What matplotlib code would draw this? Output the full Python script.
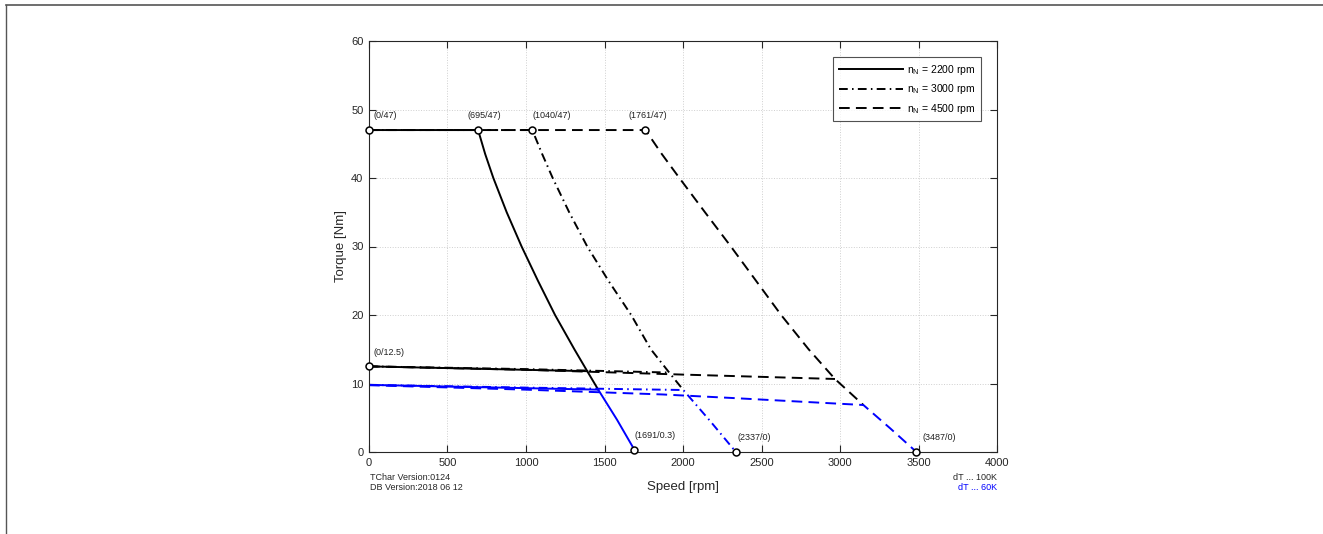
import matplotlib
matplotlib.use('Agg')
import matplotlib.pyplot as plt
from matplotlib.lines import Line2D

plt.rcParams['font.family'] = ['Liberation Sans', 'DejaVu Sans']

# Speed/torque curves
# max torque curve (dT 100K) per winding: flat part + voltage limit
n2200_max = [0, 695, 740, 792, 877, 972, 1076, 1185, 1308, 1390, 1460]
t2200_max = [47, 47, 43.5, 40, 35, 30, 25, 20, 15, 11.8, 9.1]
n3000_max = [0, 1040, 1103, 1170, 1275, 1390, 1525, 1670, 1795, 1912, 2002]
t3000_max = [47, 47, 43.5, 40, 35, 30, 25, 20, 15, 11.6, 9.05]
n4500_max = [0, 1761, 1865, 1977, 2140, 2305, 2465, 2625, 2800, 2968, 3149]
t4500_max = [47, 47, 43.5, 40, 35, 30, 25, 20, 15, 10.66, 6.86]

# continuous torque dT 100K
n2200_s1 = [0, 1390]
t2200_s1 = [12.5, 11.8]
n3000_s1 = [0, 1000, 1912]
t3000_s1 = [12.5, 12.1, 11.6]
n4500_s1 = [0, 1000, 2000, 2968]
t4500_s1 = [12.5, 12.0, 11.3, 10.66]

# continuous torque dT 60K, then down along the voltage limit
n2200_60 = [0, 1460, 1580, 1691]
t2200_60 = [9.8, 9.1, 4.7, 0.3]
n3000_60 = [0, 1000, 2002, 2170, 2337]
t3000_60 = [9.8, 9.4, 9.05, 4.6, 0]
n4500_60 = [0, 1000, 1870, 2300, 3149, 3320, 3487]
t4500_60 = [9.75, 9.1, 8.4, 7.9, 6.86, 3.45, 0]

# marked points
pt_n = [0, 695, 1040, 1761, 0, 1691, 2337, 3487]
pt_t = [47, 47, 47, 47, 12.5, 0.3, 0, 0]
pt_lbl = ['(0/47)', '(695/47)', '(1040/47)', '(1761/47)', '(0/12.5)',
          '(1691/0.3)', '(2337/0)', '(3487/0)']
pt_off = [(3, 7), (-8, 7), (0, 7), (-12, 7), (3, 7), (0, 7), (1, 7), (4, 7)]

legend_lbl = [r'n$_\mathregular{N}$ = 2200 rpm', r'n$_\mathregular{N}$ = 3000 rpm',
              r'n$_\mathregular{N}$ = 4500 rpm']

fig = plt.figure(figsize=(13.23, 5.34), dpi=100)
ax = fig.add_axes([369 / 1323, 1 - 452 / 534, 628 / 1323, 411 / 534])

lw = 1.4
dash = (0, (5.5, 3.2))
dashdot = (0, (4.5, 2.2, 0.8, 2.2))
blue = '#0000ff'

ax.plot(n2200_max, t2200_max, color='k', lw=lw, ls='-', label=legend_lbl[0])
ax.plot(n3000_max, t3000_max, color='k', lw=lw, ls=dashdot, label=legend_lbl[1])
ax.plot(n4500_max, t4500_max, color='k', lw=lw, ls=dash, label=legend_lbl[2])
ax.plot(n2200_s1, t2200_s1, color='k', lw=lw, ls='-')
ax.plot(n3000_s1, t3000_s1, color='k', lw=lw, ls=dashdot)
ax.plot(n4500_s1, t4500_s1, color='k', lw=lw, ls=dash)
ax.plot(n2200_60, t2200_60, color=blue, lw=lw, ls='-')
ax.plot(n3000_60, t3000_60, color=blue, lw=lw, ls=dashdot)
ax.plot(n4500_60, t4500_60, color=blue, lw=lw, ls=dash)

ax.plot(pt_n, pt_t, ls='none', marker='o', ms=5, mfc='white', mec='k',
        mew=1.1, clip_on=False, zorder=5)
for n, t, s, off in zip(pt_n, pt_t, pt_lbl, pt_off):
    ax.annotate(s, (n, t), xytext=off, textcoords='offset points',
                fontsize=6.5, color='#222222', ha='left', va='bottom')

ax.set_xlim(0, 4000)
ax.set_ylim(0, 60)
ax.set_xticks(range(0, 4001, 500))
ax.set_yticks(range(0, 61, 10))
ax.tick_params(direction='in', length=5, width=0.8, top=True, right=True,
               labelsize=8, colors='#262626', pad=4)
for sp in ax.spines.values():
    sp.set_linewidth(0.8)
    sp.set_color('#262626')
ax.grid(True, ls=':', lw=0.7, color='#cfcfcf')

ax.set_xlabel('Speed [rpm]', fontsize=9.5, color='#262626', labelpad=10)
ax.set_ylabel('Torque [Nm]', fontsize=9.5, color='#262626', labelpad=3)

leg = ax.legend(loc='upper right', bbox_to_anchor=(0.9745, 0.96), fontsize=7.5,
                frameon=True, fancybox=False, edgecolor='#262626',
                handlelength=6.2, handletextpad=0.4, borderpad=0.5,
                labelspacing=0.55, borderaxespad=0)
leg.get_frame().set_linewidth(0.8)

# footer texts
fig.text(370 / 1323, 1 - 478 / 534, 'TChar Version:0124', fontsize=6.5,
         color='#262626', va='center')
fig.text(370 / 1323, 1 - 488 / 534, 'DB Version:2018 06 12', fontsize=6.5,
         color='#262626', va='center')
fig.text(997 / 1323, 1 - 478 / 534, 'dT ... 100K', fontsize=6.5,
         color='#262626', va='center', ha='right')
fig.text(997 / 1323, 1 - 488 / 534, 'dT ... 60K', fontsize=6.5,
         color=blue, va='center', ha='right')

# frame lines at top and left of the image
fig.add_artist(Line2D([6 / 1323, 1], [1 - 4.5 / 534, 1 - 4.5 / 534],
                      transform=fig.transFigure, color='#555555', lw=1.2))
fig.add_artist(Line2D([6 / 1323, 6 / 1323], [0, 1 - 4.5 / 534],
                      transform=fig.transFigure, color='#555555', lw=1.0))

fig.savefig('out.png', dpi=100)
